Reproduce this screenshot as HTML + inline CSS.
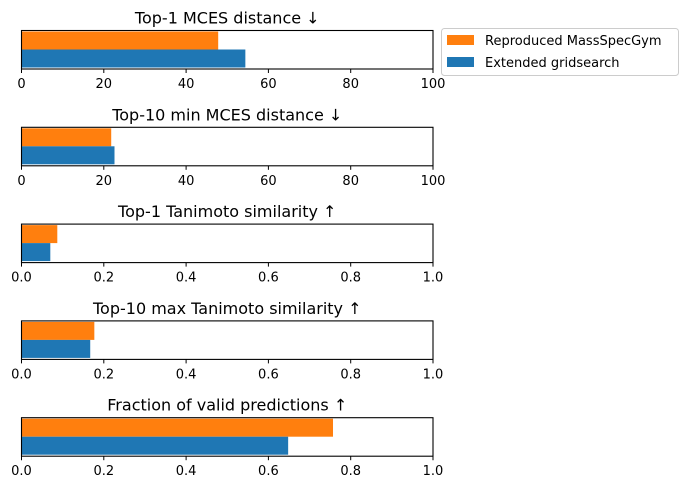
<!DOCTYPE html>
<html><head><meta charset="utf-8"><style>
body{margin:0;background:#fff;font-family:"Liberation Sans","DejaVu Sans",sans-serif}
svg text{font-family:"DejaVu Sans","Liberation Sans",sans-serif}
</style></head><body>
<svg id="c" width="689" height="490" xmlns="http://www.w3.org/2000/svg"></svg>
<script>
const titles=["Top-1 MCES distance \u2193","Top-10 min MCES distance \u2193","Top-1 Tanimoto similarity \u2191","Top-10 max Tanimoto similarity \u2191","Fraction of valid predictions \u2191"];
const reproduced=[47.8,21.8,0.087,0.177,0.757];
const extended=[54.4,22.6,0.07,0.167,0.648];
const axisMax=[100,100,1,1,1];
const ticksA=["0","20","40","60","80","100"];
const ticksB=["0.0","0.2","0.4","0.6","0.8","1.0"];
const tickLabels=[ticksA,ticksA,ticksB,ticksB,ticksB];
const NS="http://www.w3.org/2000/svg";
const svg=document.getElementById('c');
function mk(t,a,p){const e=document.createElementNS(NS,t);for(const k in a)e.setAttribute(k,a[k]);(p||svg).appendChild(e);return e;}
const X0=21.5,X1=433;
for(let i=0;i<5;i++){
  const top=30.5+i*96.8,h=38.5;
  const g=mk('g',{});
  
  
  const sx=v=>X0+v/axisMax[i]*(X1-X0);
  const t=mk('text',{x:(X0+X1)/2,y:top-7,'text-anchor':'middle','font-size':16,fill:'#000'},g);t.textContent=titles[i];
  
  
  const b1=mk('rect',{x:X0,y:top+1,width:sx(reproduced[i])-X0,height:18,fill:'#ff7f0e'},g);
  
  
  const b2=mk('rect',{x:X0,y:top+19,width:sx(extended[i])-X0,height:18,fill:'#1f77b4'},g);
  
  
  const fr=mk('rect',{x:X0,y:top,width:X1-X0,height:h,fill:'none',stroke:'#000','stroke-width':1.1},g);
  
  
  tickLabels[i].forEach((lab,k)=>{
    const v=k/(tickLabels[i].length-1)*axisMax[i];const x=sx(v);
    mk('line',{x1:x,x2:x,y1:top+h,y2:top+h+4,stroke:'#000','stroke-width':1},g);
    const tt=mk('text',{x:x,y:top+h+19,'text-anchor':'middle','font-size':13,fill:'#000'},g);tt.textContent=lab;
    
    
  });
}
const lg=mk('g',{});


mk('rect',{x:441.5,y:28.5,width:237,height:47,rx:3,fill:'#fff',stroke:'#ccc'},lg);
mk('rect',{x:447,y:35,width:27,height:10,fill:'#ff7f0e'},lg);
mk('rect',{x:447,y:57,width:27,height:10,fill:'#1f77b4'},lg);
const l1=mk('text',{x:485,y:45,'font-size':13,fill:'#000'},lg);l1.textContent="Reproduced MassSpecGym";


const l2=mk('text',{x:485,y:67,'font-size':13,fill:'#000'},lg);l2.textContent="Extended gridsearch";


</script>
</body></html>
